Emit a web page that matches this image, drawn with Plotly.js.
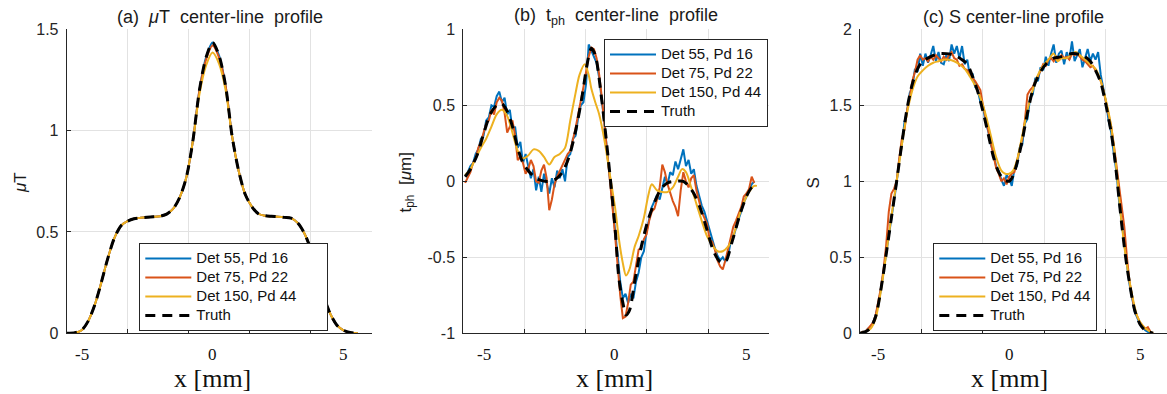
<!DOCTYPE html>
<html><head><meta charset="utf-8">
<script src="https://cdn.plot.ly/plotly-3.0.1.min.js"></script>
<style>html,body{margin:0;padding:0;background:#fff;} #chart{width:1167px;height:394px;}</style>
</head><body><div id="chart"></div>
<script>
// ---------- DATA ----------
const seriesNames = ['Det 55, Pd 16', 'Det 75, Pd 22', 'Det 150, Pd 44', 'Truth'];
const xTickLabels = [-5, 0, 5];

// (a) muT center-line profile
const aX = [-5.56,-5.25,-5.0,-4.75,-4.5,-4.25,-4.0,-3.75,-3.5,-3.25,-3.0,-2.75,-2.5,-2.25,-2.0,-1.75,-1.5,-1.25,-1.0,-0.75,-0.5,-0.25,0,0.25,0.5,0.75,1.0,1.25,1.5,1.75,2.0,2.25,2.5,2.75,3.0,3.25,3.5,3.75,4.0,4.25,4.5,4.75,5.0,5.25,5.55];
const aTruth  = [0,0.003,0.015,0.06,0.14,0.25,0.37,0.47,0.53,0.553,0.565,0.57,0.573,0.575,0.578,0.588,0.615,0.672,0.77,0.95,1.2,1.36,1.435,1.37,1.22,0.97,0.8,0.685,0.625,0.59,0.58,0.577,0.575,0.572,0.568,0.545,0.495,0.415,0.3,0.18,0.095,0.04,0.015,0.004,0];
const aBlue   = [0,0.003,0.015,0.06,0.14,0.25,0.37,0.47,0.53,0.553,0.565,0.57,0.573,0.575,0.578,0.588,0.615,0.672,0.77,0.95,1.2,1.36,1.435,1.37,1.22,0.97,0.8,0.685,0.625,0.59,0.58,0.577,0.575,0.572,0.568,0.545,0.495,0.415,0.3,0.18,0.095,0.04,0.015,0.004,0];
const aOrange = [0,0.003,0.015,0.06,0.14,0.25,0.37,0.47,0.53,0.553,0.565,0.57,0.573,0.575,0.578,0.588,0.615,0.672,0.77,0.95,1.2,1.35,1.42,1.36,1.22,0.97,0.8,0.685,0.625,0.59,0.58,0.577,0.575,0.572,0.568,0.545,0.495,0.415,0.3,0.18,0.095,0.04,0.015,0.004,0];
const aYellow = [0,0.003,0.015,0.06,0.14,0.25,0.37,0.47,0.53,0.553,0.565,0.57,0.573,0.575,0.578,0.588,0.615,0.672,0.77,0.95,1.18,1.32,1.385,1.33,1.2,0.97,0.8,0.685,0.625,0.59,0.58,0.577,0.575,0.572,0.568,0.545,0.495,0.415,0.3,0.18,0.095,0.04,0.015,0.004,0];

// (b) t_ph center-line profile
const bGridX = [-5.7,-5.6,-5.5,-5.4,-5.3,-5.2,-5.1,-5.0,-4.9,-4.8,-4.7,-4.6,-4.5,-4.4,-4.3,-4.2,-4.1,-4.0,-3.9,-3.8,-3.7,-3.6,-3.5,-3.4,-3.3,-3.2,-3.1,-3.0,-2.9,-2.8,-2.7,-2.6,-2.5,-2.4,-2.3,-2.2,-2.1,-2.0,-1.9,-1.8,-1.7,-1.6,-1.5,-1.4,-1.3,-1.2,-1.1,-1.0,-0.9,-0.8,-0.7,-0.6,-0.5,-0.4,-0.3,-0.2,-0.1,0,0.1,0.2,0.3,0.4,0.5,0.6,0.7,0.8,0.9,1.0,1.1,1.2,1.3,1.4,1.5,1.6,1.7,1.8,1.9,2.0,2.1,2.2,2.3,2.4,2.5,2.6,2.7,2.8,2.9,3.0,3.1,3.2,3.3,3.4,3.5,3.6,3.7,3.8,3.9,4.0,4.1,4.2,4.3,4.4,4.5,4.6,4.7,4.8,4.9,5.0,5.1,5.2,5.3];
const bBlue = [0.04,0.06,0.10,0.12,0.18,0.21,0.28,0.30,0.40,0.42,
  0.50,0.49,0.56,0.59,0.52,0.55,0.44,0.47,0.34,0.36,
  0.22,0.26,0.12,0.18,0.10,0.02,0.08,-0.06,0.03,-0.07,
  0.05,-0.02,-0.08,0.02,-0.04,0.07,0.02,0.08,0.00,0.16,
  0.18,0.28,0.30,0.42,0.50,0.52,0.64,0.90,0.86,0.83,
  0.78,0.68,0.54,0.38,0.20,0.03,-0.14,-0.30,-0.50,-0.66,
  -0.77,-0.74,-0.80,-0.74,-0.77,-0.66,-0.60,-0.50,-0.46,-0.33,
  -0.25,-0.17,-0.13,-0.09,-0.12,-0.04,0.03,-0.02,0.06,0.04,
  0.13,0.08,0.15,0.21,0.10,0.14,0.05,0.08,-0.03,-0.10,
  -0.16,-0.20,-0.26,-0.33,-0.38,-0.44,-0.49,-0.52,-0.50,-0.53,
  -0.49,-0.40,-0.37,-0.30,-0.25,-0.20,-0.14,-0.10,-0.06,-0.02,
  0.00];
const bOrange = [-0.01,0.03,0.06,0.12,0.15,0.22,0.26,0.32,0.38,0.40,
  0.47,0.44,0.52,0.55,0.53,0.45,0.32,0.36,0.40,0.30,
  0.14,0.16,0.12,0.05,0.08,0.14,0.10,0.00,-0.01,0.07,
  0.11,0.02,-0.19,-0.12,-0.02,0.03,0.07,0.10,0.15,0.18,
  0.20,0.27,0.35,0.44,0.52,0.62,0.72,0.82,0.88,0.87,
  0.81,0.70,0.55,0.38,0.20,0.02,-0.16,-0.35,-0.56,-0.75,
  -0.90,-0.89,-0.80,-0.68,-0.66,-0.55,-0.45,-0.44,-0.38,-0.35,
  -0.26,-0.20,-0.18,-0.12,-0.04,0.11,0.06,-0.02,-0.08,-0.13,
  -0.17,-0.23,-0.06,0.06,0.00,-0.04,0.02,0.04,-0.06,-0.13,
  -0.20,-0.24,-0.28,-0.38,-0.40,-0.45,-0.52,-0.56,-0.58,-0.52,
  -0.45,-0.38,-0.30,-0.26,-0.22,-0.17,-0.10,-0.08,-0.05,0.03,
  -0.01];
const bYellowX = [-5.7,-5.5,-5.3,-5.1,-4.9,-4.7,-4.5,-4.3,-4.1,-3.9,-3.7,-3.5,-3.3,-3.1,-2.9,-2.7,-2.5,-2.3,-2.1,-1.9,-1.7,-1.5,-1.35,-1.15,-1.0,-0.9,-0.75,-0.6,-0.4,-0.2,0,0.15,0.3,0.42,0.55,0.75,0.9,1.1,1.27,1.4,1.6,1.8,2.0,2.2,2.4,2.55,2.7,2.9,3.1,3.3,3.5,3.7,3.9,4.1,4.3,4.5,4.7,4.9,5.1,5.3,5.4];
const bYellow  = [0.04,0.08,0.15,0.22,0.28,0.36,0.44,0.47,0.43,0.32,0.2,0.15,0.17,0.21,0.2,0.16,0.11,0.16,0.18,0.22,0.4,0.58,0.7,0.77,0.7,0.61,0.52,0.44,0.27,0.05,-0.17,-0.38,-0.54,-0.62,-0.58,-0.43,-0.36,-0.24,-0.09,-0.02,-0.06,-0.07,-0.07,-0.04,0.03,0.08,0.06,-0.04,-0.15,-0.26,-0.36,-0.42,-0.46,-0.46,-0.43,-0.36,-0.24,-0.14,-0.07,-0.03,-0.03];
const bTruthX = [-5.7,-5.5,-5.25,-5.0,-4.75,-4.5,-4.3,-4.1,-3.9,-3.7,-3.5,-3.25,-3.0,-2.75,-2.5,-2.25,-2.0,-1.75,-1.5,-1.25,-1.05,-0.9,-0.75,-0.5,-0.25,0,0.15,0.3,0.42,0.55,0.75,1.0,1.25,1.5,1.75,2.0,2.3,2.6,2.8,3.0,3.25,3.5,3.75,4.0,4.2,4.45,4.75,5.0,5.2,5.35];
const bTruth  = [0.03,0.08,0.17,0.31,0.44,0.5,0.51,0.46,0.36,0.22,0.12,0.06,0.02,0.003,0.0,0.015,0.06,0.16,0.33,0.56,0.78,0.875,0.83,0.53,0.14,-0.3,-0.64,-0.8,-0.88,-0.85,-0.66,-0.43,-0.26,-0.14,-0.05,-0.01,0.0,0.0,-0.03,-0.08,-0.18,-0.32,-0.46,-0.53,-0.53,-0.4,-0.22,-0.1,-0.04,-0.02];

// (c) S center-line profile
const cGridX = [-5.7,-5.6,-5.5,-5.4,-5.3,-5.2,-5.1,-5.0,-4.9,-4.8,-4.7,-4.6,-4.5,-4.4,-4.3,-4.2,-4.1,-4.0,-3.9,-3.8,-3.7,-3.6,-3.5,-3.4,-3.3,-3.2,-3.1,-3.0,-2.9,-2.8,-2.7,-2.6,-2.5,-2.4,-2.3,-2.2,-2.1,-2.0,-1.9,-1.8,-1.7,-1.6,-1.5,-1.4,-1.3,-1.2,-1.1,-1.0,-0.9,-0.8,-0.7,-0.6,-0.5,-0.4,-0.3,-0.2,-0.1,0,0.1,0.2,0.3,0.4,0.5,0.6,0.7,0.8,0.9,1.0,1.1,1.2,1.3,1.4,1.5,1.6,1.7,1.8,1.9,2.0,2.1,2.2,2.3,2.4,2.5,2.6,2.7,2.8,2.9,3.0,3.1,3.2,3.3,3.4,3.5,3.6,3.7,3.8,3.9,4.0,4.1,4.2,4.3,4.4,4.5,4.6,4.7,4.8,4.9,5.0,5.1,5.2,5.3,5.4,5.5];
const cBlue = [0.0,0.01,0.01,0.03,0.04,0.07,0.12,0.19,0.29,0.41,
  0.50,0.64,0.77,0.87,0.99,1.14,1.24,1.39,1.46,1.58,
  1.62,1.74,1.72,1.84,1.76,1.84,1.78,1.83,1.89,1.79,
  1.85,1.78,1.77,1.83,1.79,1.90,1.84,1.89,1.81,1.89,
  1.77,1.80,1.69,1.71,1.62,1.60,1.52,1.49,1.39,1.33,
  1.24,1.19,1.10,1.07,1.01,0.97,1.04,1.02,0.97,1.08,
  1.10,1.22,1.24,1.38,1.41,1.55,1.57,1.68,1.66,1.75,
  1.73,1.82,1.76,1.84,1.90,1.78,1.84,1.86,1.77,1.85,
  1.80,1.92,1.79,1.83,1.87,1.75,1.82,1.87,1.79,1.84,
  1.80,1.85,1.70,1.62,1.52,1.40,1.32,1.18,1.06,0.87,
  0.72,0.56,0.45,0.32,0.24,0.14,0.10,0.06,0.04,0.02,
  0.01,0.00,0.00];
const cOrange = [0,0.01,0.01,0.03,0.05,0.07,0.12,0.20,0.30,0.42,
  0.58,0.80,0.92,0.95,1.00,1.15,1.28,1.34,1.47,1.55,
  1.66,1.72,1.80,1.83,1.80,1.81,1.79,1.82,1.80,1.83,
  1.81,1.79,1.82,1.80,1.83,1.85,1.81,1.80,1.76,1.77,
  1.74,1.73,1.70,1.68,1.66,1.63,1.60,1.50,1.42,1.32,
  1.25,1.17,1.09,1.05,1.00,1.02,0.98,1.03,1.05,1.06,
  1.13,1.20,1.28,1.40,1.57,1.60,1.62,1.66,1.69,1.73,
  1.77,1.76,1.80,1.81,1.79,1.82,1.80,1.83,1.81,1.82,
  1.80,1.84,1.83,1.84,1.82,1.80,1.79,1.77,1.75,1.76,
  1.73,1.70,1.66,1.60,1.52,1.44,1.36,1.24,1.10,0.95,
  0.85,0.70,0.50,0.34,0.24,0.15,0.11,0.07,0.05,0.03,
  0.04,0.01,0];
const cYellowX = [-5.7,-5.5,-5.3,-5.1,-4.9,-4.7,-4.5,-4.3,-4.1,-3.9,-3.7,-3.5,-3.3,-3.1,-2.9,-2.7,-2.5,-2.3,-2.1,-1.9,-1.7,-1.5,-1.3,-1.1,-0.9,-0.7,-0.5,-0.3,-0.15,0,0.15,0.3,0.5,0.7,0.9,1.1,1.3,1.5,1.7,1.85,2.0,2.2,2.4,2.55,2.7,2.9,3.1,3.3,3.5,3.7,3.9,4.1,4.3,4.5,4.7,4.9,5.1,5.3,5.5];
const cYellow  = [0,0.01,0.03,0.1,0.28,0.52,0.77,1.0,1.24,1.45,1.6,1.69,1.73,1.76,1.78,1.79,1.8,1.8,1.79,1.77,1.74,1.69,1.63,1.55,1.44,1.3,1.16,1.07,1.05,1.05,1.07,1.14,1.3,1.47,1.6,1.7,1.76,1.8,1.84,1.79,1.81,1.81,1.84,1.85,1.83,1.8,1.77,1.74,1.66,1.53,1.36,1.08,0.72,0.45,0.25,0.11,0.05,0.02,0];
const cTruthX = [-5.7,-5.5,-5.3,-5.1,-4.9,-4.7,-4.5,-4.3,-4.1,-3.9,-3.7,-3.5,-3.3,-3.0,-2.7,-2.4,-2.1,-1.8,-1.6,-1.4,-1.2,-1.0,-0.8,-0.6,-0.4,-0.2,0,0.1,0.2,0.3,0.4,0.5,0.6,0.7,0.8,0.9,1.0,1.2,1.4,1.7,2.0,2.4,2.8,3.1,3.3,3.5,3.7,3.9,4.0,4.1,4.2,4.3,4.4,4.5,4.6,4.7,4.8,5.0,5.2,5.5];
const cTruth  = [0,0.01,0.035,0.11,0.29,0.52,0.76,1.0,1.25,1.48,1.64,1.74,1.79,1.82,1.84,1.84,1.83,1.8,1.77,1.69,1.59,1.46,1.31,1.16,1.06,1.01,1.0,1.02,1.06,1.12,1.19,1.27,1.36,1.45,1.53,1.6,1.65,1.72,1.77,1.81,1.82,1.84,1.83,1.79,1.73,1.65,1.5,1.32,1.2,1.05,0.88,0.72,0.57,0.44,0.33,0.23,0.15,0.06,0.02,0];

// ---------- STYLE / LAYOUT ----------
const W = 1167, H = 394;
const fx = v => v / W, fy = v => 1 - v / H;
const SANS = 'Liberation Sans, Arial, Helvetica, sans-serif';
const SERIF = 'Liberation Serif, Times New Roman, serif';
const INK = '#262626', GRID = '#e2e2e2';
const COLORS = ['#0072BD', '#D95319', '#EDB120', '#000000'];

const panels = [
  { id: '', leg: 'legend', dom: [66.7, 372], xr: [-5.57, 6.09], yr: [0, 1.5],
    yt: [0, 0.5, 1, 1.5], ytt: ['0', '0.5', '1', '1.5'],
    series: [[aX, aBlue], [aX, aOrange], [aX, aYellow], [aX, aTruth]], smooth: [true, true, true, true],
    legPos: [139.3, 243], legPad: 6, title: '(a)\u00a0 <i>μ</i>T\u00a0 center-line\u00a0 profile', titleX: 219.5,
    ytitle: '<i>μ</i>T', ytitleX: 20 },
  { id: '2', leg: 'legend2', dom: [463.3, 769.3], xr: [-5.77, 5.87], yr: [-1, 1],
    yt: [-1, -0.5, 0, 0.5, 1], ytt: ['-1', '-0.5', '0', '0.5', '1'],
    series: [[bGridX, bBlue], [bGridX, bOrange], [bYellowX, bYellow], [bTruthX, bTruth]], smooth: [false, false, true, true],
    legPos: [604, 39], legPad: 0, title: '(b)\u00a0 t<sub>ph</sub>\u00a0 center-line\u00a0 profile', titleX: 616.3,
    ytitle: 't<sub>ph</sub>\u00a0 [<i>μ</i>m]', ytitleX: 406.5 },
  { id: '3', leg: 'legend3', dom: [860, 1166.7], xr: [-5.70, 6.02], yr: [0, 2],
    yt: [0, 0.5, 1, 1.5, 2], ytt: ['0', '0.5', '1', '1.5', '2'],
    series: [[cGridX, cBlue], [cGridX, cOrange], [cYellowX, cYellow], [cTruthX, cTruth]], smooth: [false, false, true, true],
    legPos: [933.3, 243], legPad: 0, title: '(c) S center-line profile', titleX: 1013.3,
    ytitle: 'S', ytitleX: 812.5 }
];

function gridTicks(r) { const t = []; for (let k = 1; k <= 5; k++) t.push(r[0] + k * (r[1] - r[0]) / 5); return t; }

const traces = [];
const layout = {
  width: W, height: H, margin: { l: 0, r: 0, t: 0, b: 0, pad: 0 },
  paper_bgcolor: '#fff', plot_bgcolor: '#fff', showlegend: true,
  font: { family: SANS, color: INK }, annotations: []
};
const yDom = [fy(333.3), fy(29.3)];

panels.forEach(p => {
  const xa = 'xaxis' + p.id, ya = 'yaxis' + p.id;
  layout[xa] = {
    domain: [fx(p.dom[0]), fx(p.dom[1])], range: p.xr, anchor: 'y' + p.id,
    tickmode: 'array', tickvals: gridTicks(p.xr), showticklabels: false,
    ticks: 'inside', ticklen: 4, tickcolor: INK, showline: true, linecolor: INK, linewidth: 1,
    showgrid: true, gridcolor: GRID, gridwidth: 1, zeroline: false, fixedrange: true
  };
  layout[ya] = {
    domain: yDom, range: p.yr, anchor: 'x' + p.id,
    tickmode: 'array', tickvals: p.yt, ticktext: p.ytt,
    ticks: 'inside', ticklen: 4, tickcolor: INK, showline: true, linecolor: INK, linewidth: 1,
    showgrid: true, gridcolor: GRID, gridwidth: 1, zeroline: false, fixedrange: true,
    tickfont: { family: SANS, size: 16, color: INK }, ticklabelstandoff: 4
  };
  // legend: small base size keeps rows compact (as in the reference), names drawn at 15px
  layout[p.leg] = {
    x: fx(p.legPos[0]), y: fy(p.legPos[1]), xanchor: 'left', yanchor: 'top',
    bgcolor: '#fff', bordercolor: INK, borderwidth: 1, itemwidth: 46,
    font: { family: SANS, size: 11, color: '#111' }, tracegroupgap: 0
  };
  p.series.forEach((s, i) => {
    const label = seriesNames[i] + (i === 2 ? '\u00a0'.repeat(p.legPad) : '');
    traces.push({
      type: 'scatter', mode: 'lines', x: s[0], y: s[1],
      name: '<span style="font-size:15px">' + label + '</span>',
      xaxis: 'x' + p.id, yaxis: 'y' + p.id, legend: p.leg,
      line: { color: COLORS[i], width: i === 3 ? 3 : 2, dash: i === 3 ? '10px,7px' : 'solid',
              shape: p.smooth[i] ? 'spline' : 'linear', smoothing: 0.8 },
      hoverinfo: 'skip'
    });
  });
  // panel title
  layout.annotations.push({ text: p.title, xref: 'paper', yref: 'paper', x: fx(p.titleX), y: fy(17),
    xanchor: 'center', yanchor: 'middle', showarrow: false, font: { family: SANS, size: 18, color: '#1a1a1a' } });
  // y title
  layout.annotations.push({ text: p.ytitle, xref: 'paper', yref: 'paper', x: fx(p.ytitleX), y: fy(183),
    xanchor: 'center', yanchor: 'middle', textangle: -90, showarrow: false, font: { family: SANS, size: 17, color: '#1a1a1a' } });
  // x tick labels (serif, placed at the mm values)
  xTickLabels.forEach(v => {
    layout.annotations.push({ text: String(v), xref: 'x' + p.id, yref: 'paper', x: v, y: fy(354),
      xanchor: 'center', yanchor: 'middle', showarrow: false, font: { family: SERIF, size: 17, color: '#111' } });
  });
  // x title
  layout.annotations.push({ text: 'x [mm]', xref: 'x' + p.id, yref: 'paper', x: 0, y: fy(378),
    xanchor: 'center', yanchor: 'middle', showarrow: false, font: { family: SERIF, size: 26, color: '#111' } });
});

Plotly.newPlot('chart', traces, layout, { displayModeBar: false, staticPlot: true });
</script>
</body></html>
